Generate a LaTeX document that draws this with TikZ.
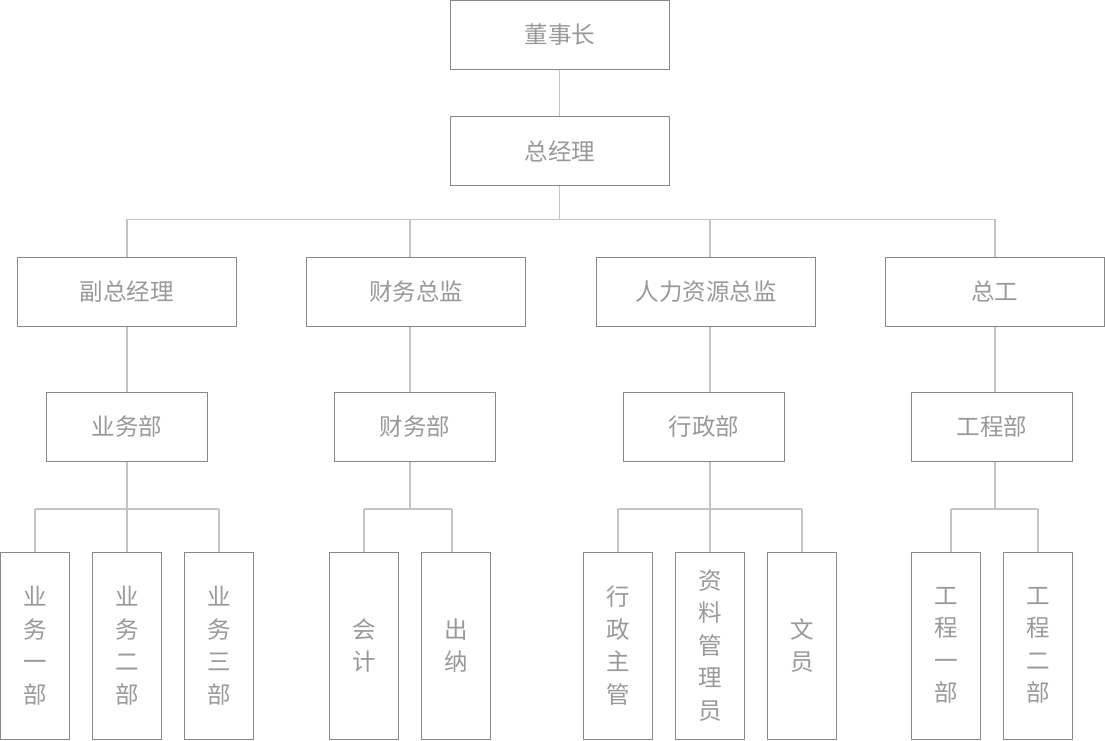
\documentclass[tikz,border=0pt]{standalone}
\usepackage{fontspec}
\setmainfont{Noto Sans CJK SC}
\definecolor{boxline}{HTML}{888888}
\definecolor{txt}{HTML}{999999}
\definecolor{conn}{HTML}{C4C4C4}
\begin{document}
\begin{tikzpicture}[x=1pt,y=-1pt,
  box/.style={draw=boxline,line width=1pt,inner sep=0pt,text=txt,
    font=\fontsize{23.5}{32.5}\selectfont,align=center,fill=white},
  wide/.style={box,minimum width=219pt,minimum height=69pt},
  mid/.style={box,minimum width=161pt,minimum height=69pt},
  tall/.style={box,minimum width=69pt,minimum height=187pt},
  link/.style={draw=conn,line width=1.4pt}]
\useasboundingbox[fill=white] (0,0) rectangle (1105,740);
% level 1-2
\node[wide] (chair) at (560,35) {董事长};
\node[wide] (gm) at (560,151) {总经理};
% level 3
\node[wide] (vp)  at (126.7,291.8) {副总经理};
\node[wide] (cfo) at (416,291.8) {财务总监};
\node[wide] (hr)  at (706,291.8) {人力资源总监};
\node[wide] (ce)  at (994.7,291.8) {总工};
% level 4
\node[mid] (biz) at (127,426.8) {业务部};
\node[mid] (fin) at (415,426.8) {财务部};
\node[mid] (adm) at (704,426.8) {行政部};
\node[mid] (eng) at (992,426.8) {工程部};
% level 5
\node[tall] (b1) at (35,645.5) {业\\务\\一\\部};
\node[tall] (b2) at (127,645.5) {业\\务\\二\\部};
\node[tall] (b3) at (219,645.5) {业\\务\\三\\部};
\node[tall] (f1) at (364,645.5) {会\\计};
\node[tall] (f2) at (456,645.5) {出\\纳};
\node[tall] (a1) at (618,645.5) {行\\政\\主\\管};
\node[tall] (a2) at (710,645.5) {资\\料\\管\\理\\员};
\node[tall] (a3) at (802,645.5) {文\\员};
\node[tall] (e1) at (946,645.5) {工\\程\\一\\部};
\node[tall] (e2) at (1038,645.5) {工\\程\\二\\部};
% bus coordinates
\coordinate (t0) at (559.5,219.3);
\coordinate (t1) at (127,219.3);
\coordinate (t2) at (410,219.3);
\coordinate (t3) at (710,219.3);
\coordinate (t4) at (995,219.3);
\coordinate (s1) at (127,509);
\coordinate (s2) at (410,509);
\coordinate (s3) at (710,509);
\coordinate (s4) at (995,509);
\coordinate (f2x) at (452,509);
\coordinate (e1x) at (951,509);
\begin{scope}[on background layer/.style={}]
\end{scope}
% connectors
\path[link] (chair.south -| t0) -- (gm.north -| t0);
\path[link] (gm.south -| t0) -- (t0);
\path[link] (t1) -- (t4);
\path[link] (t1) -- (t1 |- vp.north);
\path[link] (t2) -- (t2 |- cfo.north);
\path[link] (t3) -- (t3 |- hr.north);
\path[link] (t4) -- (t4 |- ce.north);
\path[link] (t1 |- vp.south) -- (t1 |- biz.north);
\path[link] (t2 |- cfo.south) -- (t2 |- fin.north);
\path[link] (t3 |- hr.south) -- (t3 |- adm.north);
\path[link] (t4 |- ce.south) -- (t4 |- eng.north);
% level 5 buses
\path[link] (biz.south -| s1) -- (s1);
\path[link] (b1.north |- s1) -- (b3.north |- s1);
\path[link] (s1 -| b1.north) -- (b1.north);
\path[link] (s1 -| b2.north) -- (b2.north);
\path[link] (s1 -| b3.north) -- (b3.north);
\path[link] (fin.south -| s2) -- (s2);
\path[link] (f1.north |- s2) -- (f2x);
\path[link] (s2 -| f1.north) -- (f1.north);
\path[link] (f2x) -- (f2x |- f2.north);
\path[link] (adm.south -| s3) -- (s3);
\path[link] (a1.north |- s3) -- (a3.north |- s3);
\path[link] (s3 -| a1.north) -- (a1.north);
\path[link] (s3 -| a2.north) -- (a2.north);
\path[link] (s3 -| a3.north) -- (a3.north);
\path[link] (eng.south -| s4) -- (s4);
\path[link] (e1x) -- (e2.north |- s4);
\path[link] (e1x) -- (e1x |- e1.north);
\path[link] (s4 -| e2.north) -- (e2.north);
\end{tikzpicture}
\end{document}
